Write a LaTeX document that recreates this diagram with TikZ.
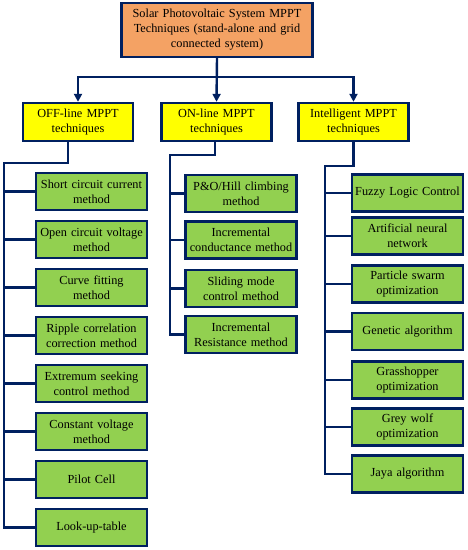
\documentclass[tikz,border=0pt]{standalone}
\usepackage{fontspec}
\setmainfont{Liberation Serif}
\usetikzlibrary{arrows.meta}
\definecolor{navyline}{RGB}{0,32,96}
\definecolor{rootorange}{RGB}{244,162,100}
\definecolor{cathyellow}{RGB}{255,255,0}
\definecolor{leafgreen}{RGB}{146,208,80}

\begin{document}
\begin{tikzpicture}[
    x=1pt,
    y=-1pt,
    link/.style={draw=navyline, line width=2.4pt},
    arrowlink/.style={link, -{Triangle[width=8pt,length=8pt]}},
    rootbox/.style={draw=navyline, line width=2.4pt, fill=rootorange, align=center, text width=185pt, minimum height=54pt, inner sep=3pt},
    catbox/.style={draw=navyline, line width=2.4pt, fill=cathyellow, align=center, text width=104pt, minimum height=38pt, inner sep=3pt},
    leaf/.style={draw=navyline, line width=2.4pt, fill=leafgreen, align=center, text width=105pt, minimum height=37pt, inner sep=3pt},
    every node/.style={font=\fontsize{12.3}{15}\selectfont}
  ]
    \useasboundingbox (0,0) rectangle (468,550);

    \node[rootbox] (root) at (217,30) {Solar Photovoltaic System MPPT\\Techniques (stand-alone and grid\\connected system)};

    \node[catbox] (off) at (78,122) {OFF-line MPPT\\techniques};
    \node[catbox] (on) at (216.5,122) {ON-line MPPT\\techniques};
    \node[catbox] (intel) at (353.5,122) {Intelligent MPPT\\techniques};

    \node[leaf] (off1) at (91.5,191.5) {Short circuit current\\method};
    \node[leaf] (off2) at (91.5,239.5) {Open circuit voltage\\method};
    \node[leaf] (off3) at (91.5,287.5) {Curve fitting\\method};
    \node[leaf] (off4) at (91.5,335.5) {Ripple correlation\\correction method};
    \node[leaf] (off5) at (91.5,383.5) {Extremum seeking\\control method};
    \node[leaf] (off6) at (91.5,431.5) {Constant voltage\\method};
    \node[leaf] (off7) at (91.5,479.5) {Pilot Cell};
    \node[leaf] (off8) at (91.5,527.5) {Look-up-table};

    \node[leaf] (on1) at (241,193.5) {P\&O/Hill climbing\\method};
    \node[leaf] (on2) at (241,240) {Incremental\\conductance method};
    \node[leaf] (on3) at (241,288.5) {Sliding mode\\control method};
    \node[leaf] (on4) at (241,334.5) {Incremental\\Resistance method};

    \node[leaf] (int1) at (407.5,193) {Fuzzy Logic Control};
    \node[leaf] (int2) at (407.5,236) {Artificial neural\\network};
    \node[leaf] (int3) at (407.5,284) {Particle swarm\\optimization};
    \node[leaf] (int4) at (407.5,331.5) {Genetic algorithm};
    \node[leaf] (int5) at (407.5,380) {Grasshopper\\optimization};
    \node[leaf] (int6) at (407.5,427) {Grey wolf\\optimization};
    \node[leaf] (int7) at (407.5,474) {Jaya algorithm};

    \coordinate (hub) at (217,77);
    \coordinate (offbus) at (4,163);
    \coordinate (onbus) at (170,155);
    \coordinate (intbus) at (325,166);

    \draw[arrowlink] (root.south) -- (on.north);
    \draw[arrowlink] (hub) -| (off.north);
    \draw[arrowlink] (hub) -| (intel.north);

    \draw[link] ([xshift=-10pt]off.south) |- (offbus) -- (offbus |- off8.west) -- (off8.west);
    \draw[link] ([xshift=-1.5pt]on.south) |- (onbus) -- (onbus |- on4.west) -- (on4.west);
    \draw[link] (intel.south) |- (intbus) -- (intbus |- int7.west) -- (int7.west);

    \foreach \b in {off1,off2,off3,off4,off5,off6,off7} {
      \draw[link] (offbus |- \b.west) -- (\b.west);
    }
    \foreach \b in {on1,on2,on3} {
      \draw[link] (onbus |- \b.west) -- (\b.west);
    }
    \foreach \b in {int1,int2,int3,int4,int5,int6} {
      \draw[link] (intbus |- \b.west) -- (\b.west);
    }
  \end{tikzpicture}
\end{document}
